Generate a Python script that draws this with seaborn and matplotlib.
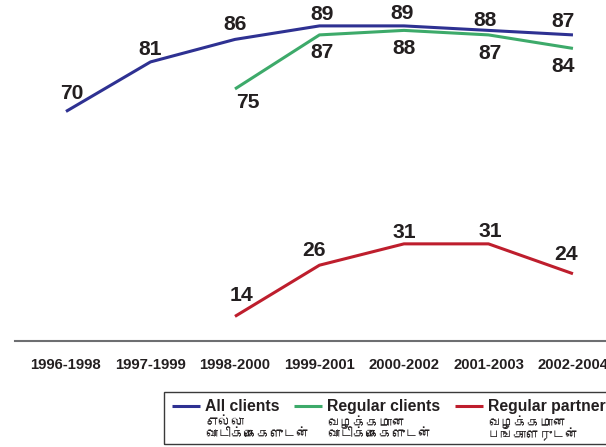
import numpy as np
import pandas as pd
import matplotlib
matplotlib.use("Agg")
import matplotlib.pyplot as plt
import seaborn as sns
from matplotlib.lines import Line2D
from matplotlib.patches import Rectangle
from matplotlib import font_manager as fm
from matplotlib.ft2font import FT2Font

# ---------------- data ----------------
periods = ["1996-1998", "1997-1999", "1998-2000", "1999-2001",
           "2000-2002", "2001-2003", "2002-2004"]
all_clients = [70, 81, 86, 89, 89, 88, 87]
regular_clients = [None, None, 75, 87, 88, 87, 84]
regular_partner = [None, None, 14, 26, 31, 31, 24]
series_names = ["All clients", "Regular clients", "Regular partner"]
tamil_line1 = ["எல்லா", "வழக்கமான", "வழக்கமான"]
tamil_line2 = ["வாடிக்கைகளுடன்", "வாடிக்கைகளுடன்", "பங்காளருடன்"]

# ---------------- style ----------------
colors = {"All clients": "#2E3192", "Regular clients": "#3DAA6A",
          "Regular partner": "#BE1E2D"}
text_color = "#231F20"
W, H = 606, 447

sns.set_theme(style="white")
plt.rcParams["font.family"] = ["Liberation Sans", "DejaVu Sans"]

# find a font that can draw Tamil, if any is installed
tamil_fp = None
for f in sorted(fm.findSystemFonts()):
    try:
        if 0x0BB5 in FT2Font(f).get_charmap():
            tamil_fp = fm.FontProperties(fname=f)
            break
    except Exception:
        pass
if tamil_fp is None:
    tamil_fp = fm.FontProperties(family=["Liberation Sans", "DejaVu Sans"])

def long_df(names, lists):
    rows = []
    for n, vals in zip(names, lists):
        for i, v in enumerate(vals):
            if v is not None:
                rows.append({"pos": i, "value": v, "series": n})
    return pd.DataFrame(rows)

top_df = long_df(series_names[:2], [all_clients, regular_clients])
bot_df = long_df(series_names[2:], [regular_partner])

fig = plt.figure(figsize=(W / 100, H / 100), dpi=100)
left = 14.7 / W
width = 1 - left
xlim = (-0.607, 6.391)

ax_top = fig.add_axes([left, 1 - 160 / H, width, 160 / H])
ax_bot = fig.add_axes([left, 1 - 341 / H, width, 161 / H])

for ax in (ax_top, ax_bot):
    ax.set_xlim(*xlim)
    ax.patch.set_alpha(0)
    for s in ax.spines.values():
        s.set_visible(False)
    ax.set_yticks([])

ax_top.set_ylim(59.22, 94.75)
ax_bot.set_ylim(8.23, 45.97)

sns.lineplot(data=top_df, x="pos", y="value", hue="series", palette=colors,
             ax=ax_top, legend=False, linewidth=2.2, estimator=None, sort=False)
sns.lineplot(data=bot_df, x="pos", y="value", hue="series", palette=colors,
             ax=ax_bot, legend=False, linewidth=2.2, estimator=None, sort=False)
for ax in (ax_top, ax_bot):
    for ln in ax.lines:
        ln.set_clip_on(False)
        ln.set_solid_capstyle("butt")
    ax.set_xlabel("")
    ax.set_ylabel("")

ax_top.set_xticks([])
ax_bot.spines["bottom"].set_visible(True)
ax_bot.spines["bottom"].set_color("#6D6E71")
ax_bot.spines["bottom"].set_linewidth(1.5)
ax_bot.set_xticks(range(len(periods)))
ax_bot.set_xticklabels(periods, fontsize=10.7, fontweight="bold", color=text_color)
ax_bot.tick_params(axis="x", length=0, pad=12.5)

# value labels (offsets in pixels: dx, dy of label centre from the point)
label_offsets = {
    "All clients": [(5.7, -20), (0, -14), (0, -17), (3, -13), (-2, -14), (-3, -12), (-10, -15)],
    "Regular clients": [None, None, (13, 12), (3, 16), (0, 16), (2, 17), (-10, 16)],
    "Regular partner": [None, None, (7, -23), (-5, -17), (0, -13), (2, -14), (-7, -21)],
}
cap_half = 7.5
for ax, names, lists in ((ax_top, series_names[:2], [all_clients, regular_clients]),
                         (ax_bot, series_names[2:], [regular_partner])):
    for n, vals in zip(names, lists):
        for i, v in enumerate(vals):
            if v is None:
                continue
            dx, dy = label_offsets[n][i]
            ax.annotate(str(v), (i, v), xytext=(dx * 0.72, -(dy + cap_half) * 0.72),
                        textcoords="offset points", ha="center", va="baseline",
                        fontsize=15.2, fontweight="bold", color=text_color,
                        annotation_clip=False)

# ---------------- legend (drawn in figure pixels) ----------------
def fx(px):
    return px / W

def fy(py):
    return 1 - py / H

fig.patches.append(Rectangle((fx(163.5), fy(444)), fx(620) - fx(163.5), fy(392) - fy(444),
                             transform=fig.transFigure, fill=False,
                             edgecolor="#3A3A3A", linewidth=1.0))
line_x = [(172, 200), (294, 322), (455, 483)]
text_x = [205, 327, 488]
for n, (x0, x1), tx, t1, t2 in zip(series_names, line_x, text_x, tamil_line1, tamil_line2):
    fig.lines.append(Line2D([fx(x0), fx(x1)], [fy(406), fy(406)], transform=fig.transFigure,
                            color=colors[n], linewidth=2.2, solid_capstyle="butt"))
    fig.text(fx(tx), fy(411.3), n, fontsize=11.3, fontweight="bold", color=text_color,
             ha="left", va="baseline")
    fig.text(fx(tx), fy(422.5), t1, fontproperties=tamil_fp, fontsize=9.4, color=text_color,
             ha="left", va="center")
    fig.text(fx(tx), fy(434.5), t2, fontproperties=tamil_fp, fontsize=9.4, color=text_color,
             ha="left", va="center")

fig.savefig("out.png", dpi=100)
